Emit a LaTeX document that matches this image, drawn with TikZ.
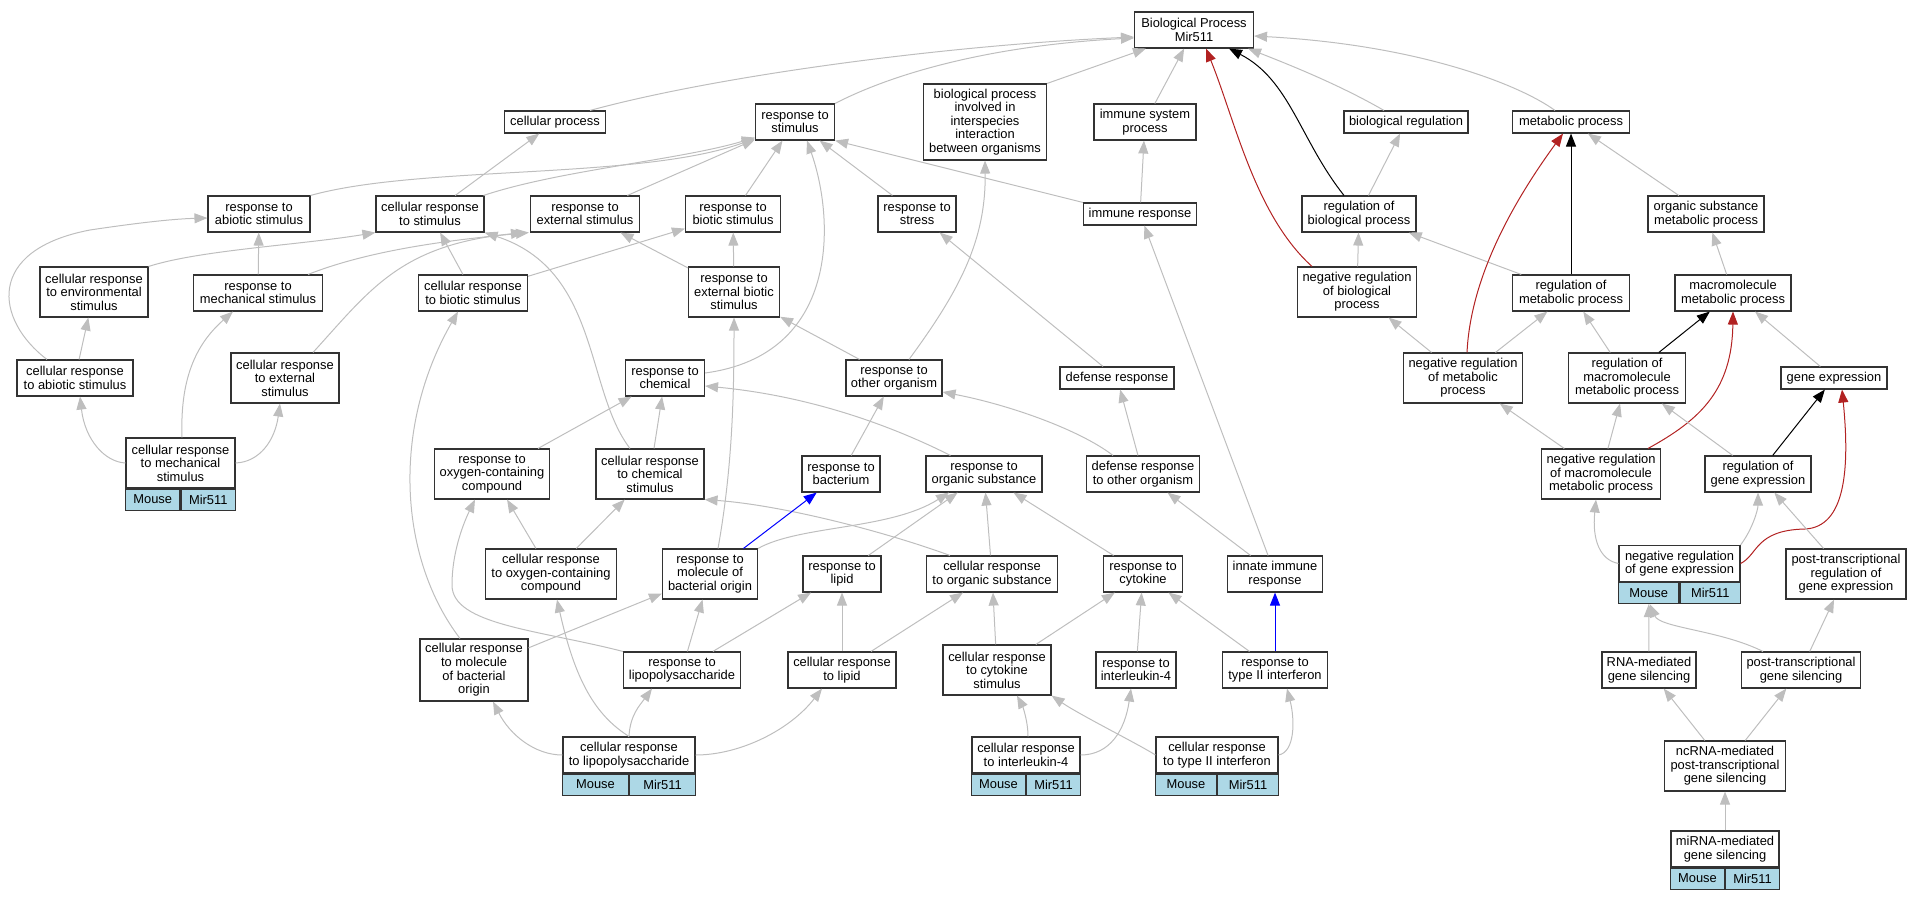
\documentclass[tikz,border=0pt]{standalone}
\usepackage{fontspec}
\setmainfont{Liberation Sans}
\usetikzlibrary{arrows.meta,positioning}

\definecolor{edgegray}{RGB}{190,190,190}
\definecolor{negred}{RGB}{178,34,34}
\definecolor{recblue}{RGB}{173,216,230}

\begin{document}
\begin{tikzpicture}[x=1pt, y=-1pt,
  every node/.style={draw=black!80, line width=1.1pt, fill=white, inner sep=0pt, align=center, font=\fontsize{12.9}{13.6}\selectfont},
  h1/.style={minimum height=22pt}, h2/.style={minimum height=36pt}, h3/.style={minimum height=50pt},
  h4/.style={minimum height=62pt}, h5/.style={minimum height=76pt},
  cell/.style={fill=recblue, minimum height=21pt},
  isa/.style={draw=edgegray, line width=1pt, -{Triangle[length=13pt,width=10pt]}},
  reg/.style={isa, draw=black},
  negreg/.style={isa, draw=negred},
  partof/.style={isa, draw=blue}]

\useasboundingbox (0,0) rectangle (1922,899);

% Nodes
\node[h2, minimum width=119pt] (bp) at (1194,30) {Biological Process\\Mir511};
\node[h1, minimum width=101pt] (cellproc) at (555,122) {cellular process};
\node[h2, minimum width=79pt] (respstim) at (795,122) {response to\\stimulus};
\node[h5, minimum width=123pt] (interspec) at (985,122) {biological process\\involved in\\interspecies\\interaction\\between organisms};
\node[h2, minimum width=102pt] (immsys) at (1145,122) {immune system\\process};
\node[h1, minimum width=124pt] (bioreg) at (1406,122) {biological regulation};
\node[h1, minimum width=117pt] (metab) at (1571,122) {metabolic process};

\node[h2, minimum width=102pt] (abiotic) at (259,214) {response to\\abiotic stimulus};
\node[h2, minimum width=108pt] (cellstim) at (430,214) {cellular response\\to stimulus};
\node[h2, minimum width=109pt] (external) at (585,214) {response to\\external stimulus};
\node[h2, minimum width=95pt] (biotic) at (733,214) {response to\\biotic stimulus};
\node[h2, minimum width=78pt] (stress) at (917,214) {response to\\stress};
\node[h1, minimum width=113pt] (immresp) at (1140,214) {immune response};
\node[h2, minimum width=114pt] (regbio) at (1359,214) {regulation of\\biological process};
\node[h2, minimum width=116pt] (orgmetab) at (1706,214) {organic substance\\metabolic process};

\node[h3, minimum width=108pt] (cellenv) at (94,292) {cellular response\\to environmental\\stimulus};
\node[h2, minimum width=129pt] (mech) at (258,293) {response to\\mechanical stimulus};
\node[h2, minimum width=109pt] (cellbiotic) at (473,293) {cellular response\\to biotic stimulus};
\node[h3, minimum width=91pt] (extbiotic) at (734,292) {response to\\external biotic\\stimulus};
\node[h3, minimum width=119pt] (negregbio) at (1357,292) {negative regulation\\of biological\\process};
\node[h2, minimum width=117pt] (regmetab) at (1571,293) {regulation of\\metabolic process};
\node[h2, minimum width=116pt] (macro) at (1733,293) {macromolecule\\metabolic process};

\node[h2, minimum width=116pt] (cellabiotic) at (75,378) {cellular response\\to abiotic stimulus};
\node[h3, minimum width=108pt] (cellext) at (285,378) {cellular response\\to external\\stimulus};
\node[h2, minimum width=79pt] (chem) at (665,378) {response to\\chemical};
\node[h2, minimum width=96pt] (otherorg) at (894,378) {response to\\other organism};
\node[h1, minimum width=114pt] (defense) at (1117,378) {defense response};
\node[h3, minimum width=119pt] (negregmetab) at (1463,378) {negative regulation\\of metabolic\\process};
\node[h3, minimum width=117pt] (regmacro) at (1627,378) {regulation of\\macromolecule\\metabolic process};
\node[h1, minimum width=106pt] (geneexp) at (1834,378) {gene expression};

\node[h3, minimum width=109pt] (cellmech) at (180.5,463) {cellular response\\to mechanical\\stimulus};
\node[h3, minimum width=115pt] (oxygen) at (492,474) {response to\\oxygen-containing\\compound};
\node[h3, minimum width=108pt] (cellchem) at (650,474) {cellular response\\to chemical\\stimulus};
\node[h2, minimum width=78pt] (bacterium) at (841,474) {response to\\bacterium};
\node[h2, minimum width=116pt] (organic) at (984,474) {response to\\organic substance};
\node[h2, minimum width=113pt] (defother) at (1143,474) {defense response\\to other organism};
\node[h3, minimum width=119pt] (negregmacro) at (1601,474) {negative regulation\\of macromolecule\\metabolic process};
\node[h2, minimum width=106pt] (reggene) at (1758,474) {regulation of\\gene expression};

\node[h3, minimum width=131pt] (celloxygen) at (551,574) {cellular response\\to oxygen-containing\\compound};
\node[h3, minimum width=95pt] (molbact) at (710,574) {response to\\molecule of\\bacterial origin};
\node[h2, minimum width=78pt] (lipid) at (842,574) {response to\\lipid};
\node[h2, minimum width=131pt] (cellorganic) at (992,574) {cellular response\\to organic substance};
\node[h2, minimum width=79pt] (cytokine) at (1143,574) {response to\\cytokine};
\node[h2, minimum width=95pt] (innate) at (1275,574) {innate immune\\response};
\node[h2, minimum width=121pt] (negreggene) at (1679.5,563.5) {negative regulation\\of gene expression};
\node[h3, minimum width=120pt] (ptreg) at (1846,574) {post-transcriptional\\regulation of\\gene expression};

\node[h4, minimum width=108pt] (cellmolbact) at (474,670) {cellular response\\to molecule\\of bacterial\\origin};
\node[h2, minimum width=117pt] (lps) at (682,670) {response to\\lipopolysaccharide};
\node[h2, minimum width=108pt] (celllipid) at (842,670) {cellular response\\to lipid};
\node[h3, minimum width=108pt] (cellcyto) at (997,670) {cellular response\\to cytokine\\stimulus};
\node[h2, minimum width=80pt] (il4) at (1136,670) {response to\\interleukin-4};
\node[h2, minimum width=105pt] (ifng) at (1275,670) {response to\\type II interferon};
\node[h2, minimum width=94pt] (rnasil) at (1649,670) {RNA-mediated\\gene silencing};
\node[h2, minimum width=119pt] (ptsil) at (1801,670) {post-transcriptional\\gene silencing};

\node[h2, minimum width=132pt] (celllps) at (629,755) {cellular response\\to lipopolysaccharide};
\node[h2, minimum width=108pt] (cellil4) at (1026,755) {cellular response\\to interleukin-4};
\node[h2, minimum width=122pt] (cellifng) at (1217,755) {cellular response\\to type II interferon};
\node[h3, minimum width=121pt] (ncrna) at (1725,766) {ncRNA-mediated\\post-transcriptional\\gene silencing};
\node[h2, minimum width=108pt] (mirna) at (1725,849) {miRNA-mediated\\gene silencing};

% Mouse / Mir511 cells
\node[cell, minimum width=54.5pt, anchor=north east] (cellmechA) at (cellmech.south) {Mouse};
\node[cell, minimum width=54.5pt, anchor=north west] (cellmechB) at (cellmech.south) {Mir511};
\node[cell, minimum width=66pt, anchor=north east] (celllpsA) at (celllps.south) {Mouse};
\node[cell, minimum width=66pt, anchor=north west] (celllpsB) at (celllps.south) {Mir511};
\node[cell, minimum width=54pt, anchor=north east] (cellil4A) at (cellil4.south) {Mouse};
\node[cell, minimum width=54pt, anchor=north west] (cellil4B) at (cellil4.south) {Mir511};
\node[cell, minimum width=61pt, anchor=north east] (cellifngA) at (cellifng.south) {Mouse};
\node[cell, minimum width=61pt, anchor=north west] (cellifngB) at (cellifng.south) {Mir511};
\node[cell, minimum width=60.5pt, anchor=north east] (negreggeneA) at (negreggene.south) {Mouse};
\node[cell, minimum width=60.5pt, anchor=north west] (negreggeneB) at (negreggene.south) {Mir511};
\node[cell, minimum width=54pt, anchor=north east] (mirnaA) at (mirna.south) {Mouse};
\node[cell, minimum width=54pt, anchor=north west] (mirnaB) at (mirna.south) {Mir511};

% Arrows
\draw[isa] ([xshift=35pt]cellproc.north) .. controls (720,75) and (950,45) .. ([yshift=-7pt]bp.west);
\draw[isa] (respstim.north east) .. controls (900,70) and (1000,45) .. ([yshift=-8pt]bp.west);
\draw[isa] (interspec.north east) -- ([xshift=12pt]bp.south west);
\draw[isa] (immsys) -- (bp);
\draw[isa] ([xshift=-22pt]bioreg.north) .. controls (1340,85) and (1290,65) .. ([xshift=-6pt]bp.south east);
\draw[isa] ([xshift=-16pt]metab.north) .. controls (1520,85) and (1420,45) .. ([yshift=-6pt]bp.east);
\draw[reg] ([xshift=-15pt]regbio.north) .. controls (1300,140) and (1290,80) .. ([xshift=35pt]bp.south);
\draw[negreg] ([xshift=-45pt]negregbio.north) .. controls (1255,215) and (1235,120) .. ([xshift=12pt]bp.south);

\draw[isa] (abiotic.north east) .. controls (420,165) and (640,180) .. ([yshift=2pt]respstim.south west);
\draw[isa] ([xshift=-1pt]cellstim.north east) .. controls (560,170) and (680,160) .. ([yshift=3pt]respstim.south west);
\draw[isa] (external) -- (respstim);
\draw[isa] (cellstim) -- (cellproc);
\draw[isa] (biotic) -- (respstim);
\draw[isa] (stress) -- (respstim);
\draw[isa] (immresp.north west) -- (respstim.south east);
\draw[isa] ([yshift=5pt]chem.east) .. controls (840,355) and (835,220) .. ([xshift=12pt]respstim.south);
\draw[isa] (immresp) -- (immsys);

\draw[isa] (cellenv.north east) .. controls (200,250) and (300,245) .. (cellstim.south west);
\draw[isa] (mech) -- (abiotic);
\draw[isa] ([xshift=-15pt]mech.north east) .. controls (370,250) and (450,240) .. ([xshift=-1pt]external.south west);
\draw[isa] (cellbiotic) -- (cellstim);
\draw[isa] (cellbiotic) -- (biotic);
\draw[isa] (extbiotic) -- (biotic);
\draw[isa] (extbiotic) -- (external);
\draw[isa] (cellabiotic) -- (cellenv);
\draw[isa] ([xshift=-28pt]cellabiotic.north) .. controls (-5,320) and (-15,250) .. (90,230) .. controls (130,224) and (170,219) .. ([yshift=-4pt]abiotic.west);
\draw[isa] ([xshift=28pt]cellext.north) .. controls (370,290) and (400,245) .. ([xshift=-6pt]external.south west);

\draw[isa] (otherorg) -- (extbiotic);
\draw[isa] ([xshift=8pt]molbact.north) .. controls (732,470) and (734,400) .. (extbiotic.south);
\draw[isa] ([xshift=-14pt]cellmolbact.north) .. controls (400,560) and (390,430) .. ([xshift=-15pt]cellbiotic.south);
\draw[isa] (defense) -- (stress);
\draw[isa] (innate) -- (immresp);
\draw[isa] ([xshift=15pt]otherorg.north) .. controls (960,290) and (986,240) .. (interspec.south);
\draw[isa] (oxygen) -- (chem);
\draw[isa] (cellchem) -- (chem);
\draw[isa] ([xshift=-20pt]cellchem.north) .. controls (585,390) and (600,270) .. (cellstim.south east);
\draw[isa] ([xshift=25pt]organic.north west) .. controls (880,420) and (800,395) .. ([yshift=-8pt]chem.east);
\draw[isa] (bacterium) -- (otherorg);
\draw[isa] ([xshift=-30pt]defother.north) .. controls (1080,430) and (1010,405) .. ([yshift=-14pt]otherorg.east);
\draw[isa] (defother) -- (defense);

\draw[isa] (celloxygen) -- (oxygen);
\draw[isa] (lps.north west) .. controls (540,630) and (452,625) .. (452,585) .. controls (452,550) and (465,520) .. ([xshift=-17pt]oxygen.south);
\draw[isa] (celloxygen) -- (cellchem);
\draw[isa] ([xshift=24pt]cellorganic.north west) .. controls (880,530) and (780,505) .. (cellchem.south east);
\draw[partof] (molbact) -- (bacterium);
\draw[isa] (molbact.north east) .. controls (800,525) and (890,530) .. ([xshift=-35pt]organic.south);
\draw[isa] (lipid) -- (organic);
\draw[isa] (cellorganic) -- (organic);
\draw[isa] (cytokine) -- (organic);
\draw[isa] (innate) -- (defother);

\draw[isa] (cellmolbact) -- (molbact);
\draw[isa] (lps) -- (molbact);
\draw[isa] (lps) -- (lipid);
\draw[isa] (celllipid) -- (lipid);
\draw[isa] (celllipid) -- (cellorganic);
\draw[isa] (cellcyto) -- (cellorganic);
\draw[isa] (cellcyto) -- (cytokine);
\draw[isa] (il4) -- (cytokine);
\draw[isa] (ifng) -- (cytokine);
\draw[partof] (ifng) -- (innate);

\draw[isa] (celllps.west) .. controls (535,755) and (510,735) .. ([xshift=19pt]cellmolbact.south);
\draw[isa] (celllps.north) .. controls (595,715) and (575,680) .. ([xshift=6pt]celloxygen.south);
\draw[isa] (celllps.north) .. controls (630,715) and (640,705) .. ([xshift=-30pt]lps.south);
\draw[isa] (celllps.east) .. controls (740,755) and (790,730) .. ([xshift=-20pt]celllipid.south);
\draw[isa] ([xshift=2pt]cellil4.north) .. controls (1028,720) and (1022,705) .. ([xshift=20pt]cellcyto.south);
\draw[isa] (cellil4.east) .. controls (1110,755) and (1125,730) .. ([xshift=-5pt]il4.south);
\draw[isa] (cellifng.west) .. controls (1140,745) and (1080,715) .. (cellcyto.south east);
\draw[isa] (cellifng.east) .. controls (1295,752) and (1295,720) .. ([xshift=12pt]ifng.south);
\draw[isa] ([xshift=1.5pt]cellmech.north) .. controls (180,380) and (195,345) .. ([xshift=-25pt]mech.south);
\draw[isa] (cellmech.west) .. controls (105,462) and (85,440) .. ([xshift=5pt]cellabiotic.south);
\draw[isa] (cellmech.east) .. controls (260,462) and (275,440) .. ([xshift=-5pt]cellext.south);

% regulation side
\draw[isa] (regbio) -- (bioreg);
\draw[isa] (negregbio) -- (regbio);
\draw[isa] (regmetab) -- (regbio);
\draw[reg] (regmetab) -- (metab);
\draw[negreg] ([xshift=4pt]negregmetab.north) .. controls (1470,290) and (1500,220) .. ([xshift=-8pt]metab.south);
\draw[isa] (orgmetab) -- (metab);
\draw[isa] (macro) -- (orgmetab);
\draw[isa] (negregmetab) -- (negregbio);
\draw[isa] (negregmetab) -- (regmetab);
\draw[isa] (regmacro) -- (regmetab);
\draw[reg] (regmacro) -- (macro);
\draw[negreg] ([xshift=47pt]negregmacro.north) .. controls (1700,420) and (1732,390) .. (macro.south);
\draw[isa] (geneexp) -- (macro);
\draw[isa] (negregmacro) -- (negregmetab);
\draw[isa] (negregmacro) -- (regmacro);
\draw[isa] (reggene) -- (regmacro);
\draw[reg] (reggene) -- (geneexp);
\draw[negreg] (negreggene.east) .. controls (1758,555) and (1755,530) .. (1805,529) .. controls (1845,527) and (1850,470) .. ([xshift=8pt]geneexp.south);
\draw[isa] (negreggene.west) .. controls (1600,560) and (1592,540) .. ([xshift=-5pt]negregmacro.south);
\draw[isa] (negreggene.north east) .. controls (1752,530) and (1758,510) .. (reggene.south);
\draw[isa] (ptreg) -- (reggene);
\draw[isa] (rnasil) -- (negreggeneA);
\draw[isa] ([xshift=-38pt]ptsil.north) .. controls (1720,630) and (1660,628) .. ([xshift=1pt]negreggeneA.south);
\draw[isa] (ptsil) -- (ptreg);
\draw[isa] (ncrna) -- (rnasil);
\draw[isa] (ncrna) -- (ptsil);
\draw[isa] (mirna) -- (ncrna);

\end{tikzpicture}
\end{document}
